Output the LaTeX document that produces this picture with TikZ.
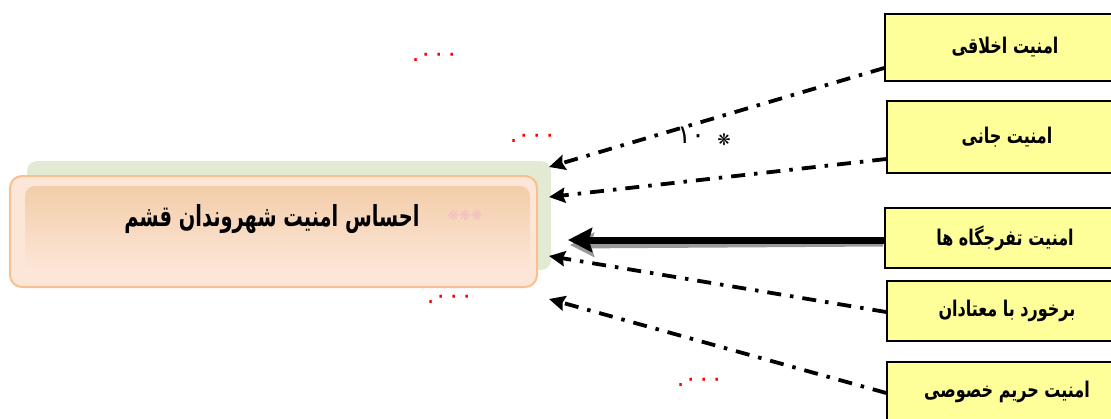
\documentclass[tikz,border=0pt]{standalone}
\usepackage{fontspec}
\usetikzlibrary{arrows.meta,calc}
\TeXXeTstate=1
\newfontfamily\arfont[Script=Arabic]{DejaVu Sans}
\newfontfamily\symfont{DejaVu Sans}
\definecolor{boxyellow}{HTML}{FFFF99}
\definecolor{peachborder}{HTML}{F9BF90}
\definecolor{peachfill}{HTML}{FCE6D8}
\definecolor{peachtop}{HTML}{F3CDA9}
\definecolor{greenback}{HTML}{E1EAD2}
\definecolor{starpink}{HTML}{F0C0C0}
\newcommand{\tallar}[1]{\scalebox{1}[1.35]{\beginR #1\endR}}
\tikzset{
  factor/.style={draw=black, line width=1.6pt, fill=boxyellow, minimum width=240pt, inner sep=0pt, font=\arfont\bfseries\fontsize{16}{18}\selectfont},
  dashdot/.style={line width=3.8pt, dash pattern=on 14pt off 9pt on 3.5pt off 9pt, -{Stealth[length=16pt,width=15pt,inset=2pt]}},
  redlabel/.style={text=red, font=\arfont\fontsize{24}{26}\selectfont, inner sep=0pt},
}
\begin{document}
\begin{tikzpicture}[x=1pt,y=-1pt]
\useasboundingbox (0,0) rectangle (1111,418);
\clip (0,0) rectangle (1111,418);
% main box
\node[fill=greenback, rounded corners=10pt, minimum width=524pt, minimum height=109pt, inner sep=0pt] (g) at (289,215.5) {};
\node[draw=peachborder, line width=2pt, fill=peachfill, rounded corners=12pt, minimum width=527pt, minimum height=111pt, inner sep=0pt] (main) at (273.5,231.5) {};
\shade[top color=peachtop, bottom color=peachfill, rounded corners=10pt] (25,186) rectangle (530,270);
\node[font=\arfont\bfseries\fontsize{20}{24}\selectfont, inner sep=0pt] (title) at (272,219) {\scalebox{0.97}[1.45]{\beginR احساس امنیت شهروندان قشم\endR}};
\node[text=starpink, font=\symfont\fontsize{14}{16}\selectfont, inner sep=0pt] (stars) at (465,215) {❋❋❋};
% factor boxes
\node[factor, minimum height=67pt] (b1) at (1005,47.5) {\tallar{امنیت اخلاقی}};
\node[factor, minimum height=72pt] (b2) at (1007,137) {\tallar{امنیت جانی}};
\node[factor, minimum height=60pt] (b3) at (1005,238) {\tallar{امنیت تفرجگاه ها}};
\node[factor, minimum height=60pt] (b4) at (1007,311) {\tallar{برخورد با معتادان}};
\node[factor, minimum height=60pt] (b5) at (1007,392) {\tallar{امنیت حریم خصوصی}};
% arrow ends
\coordinate (e1) at (549,167);
\coordinate (e2) at (549,197);
\coordinate (e3) at (568,240);
\coordinate (e4) at (549,256);
\coordinate (e5) at (549,299);
% connectors
\draw[dashdot] ([yshift=-20.5pt]b1.west) -- (e1);
\draw[dashdot] ([yshift=-22pt]b2.west) -- (e2);
\draw[line width=7pt, color=black!40, -{Stealth[length=24pt,width=24pt,inset=3pt]}] ([xshift=-1pt,yshift=-5pt]b3.west) -- ([xshift=2pt,yshift=-5pt]e3);
\draw[line width=7pt, -{Stealth[length=24pt,width=24pt,inset=3pt]}] ([yshift=-2pt]b3.west) -- (e3);
\draw[dashdot] ([yshift=-1pt]b4.west) -- (e4);
\draw[dashdot] ([yshift=-1pt]b5.west) -- (e5);
% labels
\node[redlabel] (l1) at (435,57) {۰۰۰.};
\node[redlabel] (l2) at (533,138) {۰۰۰.};
\node[redlabel] (l3) at (450,299) {۰۰۰.};
\node[redlabel] (l4) at (700,382) {۰۰۰.};
\node[font=\arfont\fontsize{26}{28}\selectfont, inner sep=0pt] (w1) at (691,135) {۱۰};
\node[font=\symfont\fontsize{16}{18}\selectfont, inner sep=0pt] (w1s) at (724,140) {❋};
\end{tikzpicture}
\end{document}
